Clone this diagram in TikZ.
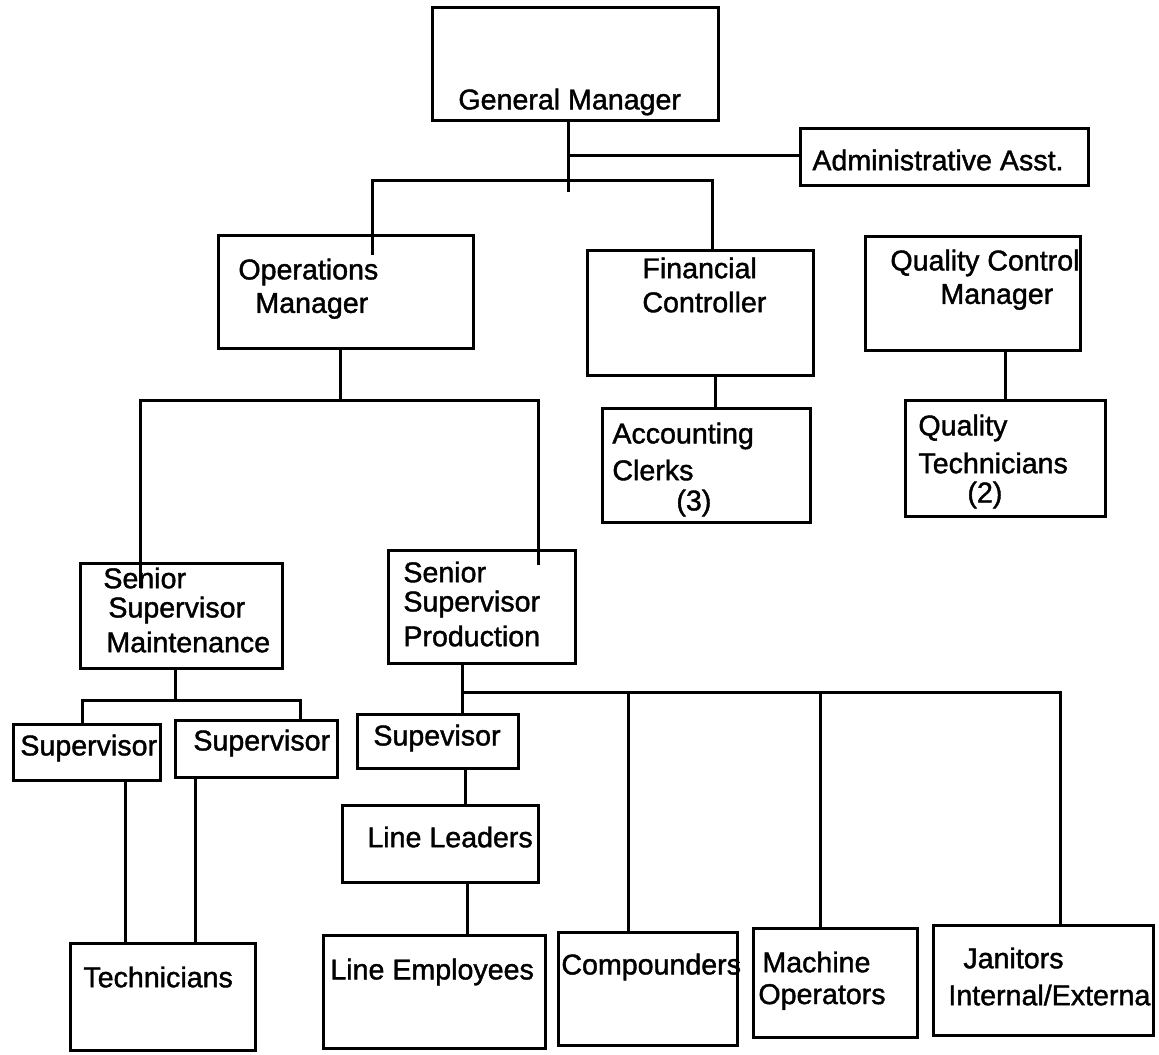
\documentclass[tikz,border=0pt]{standalone}
\usepackage{fontspec}
\setmainfont{Liberation Sans}
\newfontfamily\scanfont{Liberation Sans}[FakeBold=1.4]
\usetikzlibrary{fit}
\begin{document}
\begin{tikzpicture}[x=0.5pt,y=-0.5pt,
  box/.style={draw, line width=1.5pt, inner sep=0pt},
  txt/.style={anchor=west, inner sep=0pt, font=\scanfont\fontsize{14.3}{16}\selectfont},
  link/.style={line width=1.5pt}]
\useasboundingbox (0,0) rectangle (1159,1054);
% boxes
\node[box, fit={(432,8) (718,120)}] (gm) {};
\node[box, fit={(800,128) (1088,185)}] (admin) {};
\node[box, fit={(218,235) (473,348)}] (ops) {};
\node[box, fit={(587,250) (813,375)}] (fin) {};
\node[box, fit={(865,236) (1080,350)}] (qc) {};
\node[box, fit={(602,408) (810,522)}] (acc) {};
\node[box, fit={(905,400) (1105,516)}] (qt) {};
\node[box, fit={(80,563) (282,668)}] (maint) {};
\node[box, fit={(388,550) (575,663)}] (prod) {};
\node[box, fit={(13,724) (160,780)}] (supA) {};
\node[box, fit={(175,720) (337,777)}] (supB) {};
\node[box, fit={(357,714) (518,768)}] (supC) {};
\node[box, fit={(342,805) (538,882)}] (ll) {};
\node[box, fit={(70,943) (255,1050)}] (tech) {};
\node[box, fit={(323,935) (545,1048)}] (le) {};
\node[box, fit={(558,932) (737,1045)}] (comp) {};
\node[box, fit={(753,928) (917,1037)}] (mach) {};
\node[box, fit={(933,925) (1153,1035)}] (jan) {};
% texts
\node[txt] (tgm) at (458,102) {General Manager};
\node[txt] (tadmin) at (812,160) {Administrative Asst.};
\node[txt] (tops1) at (238,272) {Operations};
\node[txt] (tops2) at (255,306) {Manager};
\node[txt] (tfin1) at (642,268) {Financial};
\node[txt] (tfin2) at (642,302) {Controller};
\node[txt] (tqc1) at (890,263) {Quality Control};
\node[txt] (tqc2) at (940,297) {Manager};
\node[txt] (tacc1) at (612,436) {Accounting};
\node[txt] (tacc2) at (612,470) {Clerks};
\node[txt] (tacc3) at (676,503) {(3)};
\node[txt] (tqt1) at (918,428) {Quality};
\node[txt] (tqt2) at (918,463) {Technicians};
\node[txt] (tqt3) at (967,495) {(2)};
\node[txt] (tm1) at (103,578) {Senior};
\node[txt] (tm2) at (108,610) {Supervisor};
\node[txt] (tm3) at (106,642) {Maintenance};
\node[txt] (tp1) at (403,572) {Senior};
\node[txt] (tp2) at (403,604) {Supervisor};
\node[txt] (tp3) at (403,636) {Production};
\node[txt] (tsa) at (20,748) {Supervisor};
\node[txt] (tsb) at (193,743) {Supervisor};
\node[txt] (tsc) at (373,738) {Supevisor};
\node[txt] (tll) at (367,837) {Line Leaders};
\node[txt] (ttech) at (83,977) {Technicians};
\node[txt] (tle) at (330,972) {Line Employees};
\node[txt] (tcomp) at (561,967) {Compounders};
\node[txt] (tmach1) at (762,962) {Machine};
\node[txt] (tmach2) at (758,997) {Operators};
\node[txt] (tjan1) at (963,958) {Janitors};
\node[txt] (tjan2) at (948,995) {Internal/External};
% junction coordinates
\coordinate (gmEnd) at (568,192);
\coordinate (gmAdm) at (568,155);
\coordinate (busL) at (372,180);
\coordinate (busR) at (712,180);
\coordinate (opsIn) at (372,255);
\coordinate (opsJ) at (340,400);
\coordinate (bus2L) at (140,400);
\coordinate (bus2R) at (538,400);
\coordinate (maintIn) at (140,588);
\coordinate (prodIn) at (538,565);
\coordinate (mJ) at (175,700);
\coordinate (mL) at (82,700);
\coordinate (mR) at (300,700);
\coordinate (pJ) at (462,692);
\coordinate (pR) at (1060,692);
\coordinate (pC) at (628,692);
\coordinate (pM) at (820,692);
% connectors
\draw[link] (gm.south -| gmEnd) -- (gmEnd);
\draw[link] (gmAdm) -- (admin.west |- gmAdm);
\draw[link] (opsIn) -- (busL) -- (busR) -- (fin.north -| busR);
\draw[link] (ops.south -| opsJ) -- (opsJ);
\draw[link] (maintIn) -- (bus2L) -- (bus2R) -- (prodIn);
\draw[link] (fin.south -| 715,0) -- (acc.north -| 715,0);
\draw[link] (qc.south -| 1005,0) -- (qt.north -| 1005,0);
\draw[link] (maint.south -| mJ) -- (mJ);
\draw[link] (supA.north -| mL) -- (mL) -- (mR) -- (supB.north -| mR);
\draw[link] (prod.south -| pJ) -- (supC.north -| pJ);
\draw[link] (pJ) -- (pR) -- (jan.north -| pR);
\draw[link] (pC) -- (comp.north -| pC);
\draw[link] (pM) -- (mach.north -| pM);
\draw[link] (supC.south -| 465,0) -- (ll.north -| 465,0);
\draw[link] (ll.south -| 467,0) -- (le.north -| 467,0);
\draw[link] (supA.south -| 125,0) -- (tech.north -| 125,0);
\draw[link] (supB.south -| 195,0) -- (tech.north -| 195,0);
\end{tikzpicture}
\end{document}
